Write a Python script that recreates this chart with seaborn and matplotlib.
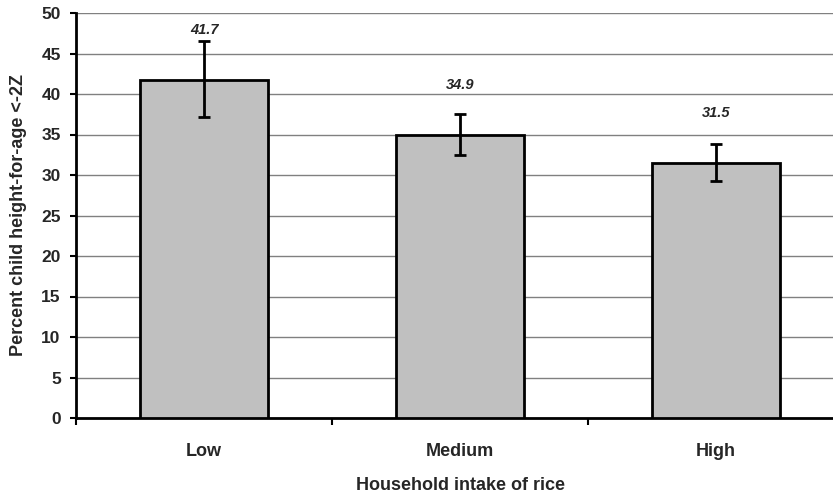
import pandas as pd
import numpy as np
import matplotlib.pyplot as plt
import seaborn as sns

sns.set_style('white')
plt.rcParams['font.family'] = ['Liberation Sans', 'DejaVu Sans']
plt.rcParams['font.weight'] = 'bold'

# 数据
categories = ['Low', 'Medium', 'High']
values = [41.7, 34.9, 31.5]
err_low = [4.5, 2.4, 2.2]    # 误差线下半部分
err_high = [4.8, 2.6, 2.3]   # 误差线上半部分
y_ticks = [0, 5, 10, 15, 20, 25, 30, 35, 40, 45, 50]

df = pd.DataFrame({'intake': categories, 'pct': values})

fig = plt.figure(figsize=(8.33, 4.95), dpi=100)
ax = fig.add_axes([76 / 833, 1 - 418 / 495, 768 / 833, 405 / 495])

sns.barplot(data=df, x='intake', y='pct', order=categories, color='#C0C0C0',
            edgecolor='black', linewidth=2, width=0.5, saturation=1,
            errorbar=None, ax=ax, zorder=3)

ax.errorbar(range(len(categories)), values, yerr=[err_low, err_high],
            fmt='none', ecolor='black', elinewidth=2, capsize=4.5,
            capthick=2, zorder=4)

# 数值标签
for i, v in enumerate(values):
    ax.annotate(f'{v}', (i, v), xytext=(0, 36), textcoords='offset points',
                ha='center', va='center', fontsize=10.5, fontweight='bold',
                fontstyle='italic')

ax.set_xlim(-0.5, 2.5)
ax.set_ylim(0, 50)
ax.set_yticks(y_ticks)
ax.yaxis.grid(True, color='#808080', linewidth=1)
ax.set_axisbelow(True)

ax.set_xticks([-0.5, 0.5, 1.5], minor=True)
ax.tick_params(axis='x', which='major', length=0, pad=18, labelsize=13)
ax.tick_params(axis='x', which='minor', length=5, width=1.5, direction='out',
               color='black', bottom=True)
ax.tick_params(axis='y', length=4, width=1.5, direction='out', color='black',
               pad=7, labelsize=12.5, left=True)

for s in ['top', 'right']:
    ax.spines[s].set_visible(False)
for s in ['left', 'bottom']:
    ax.spines[s].set_color('black')
    ax.spines[s].set_linewidth(2)

ax.set_xlabel('Household intake of rice', fontsize=13, fontweight='bold', labelpad=12)
ax.set_ylabel('Percent child height-for-age <-2Z', fontsize=13, fontweight='bold',
              labelpad=10)
for lab in ax.get_xticklabels() + ax.get_yticklabels():
    lab.set_fontweight('bold')

fig.savefig('out.png', dpi=100)
